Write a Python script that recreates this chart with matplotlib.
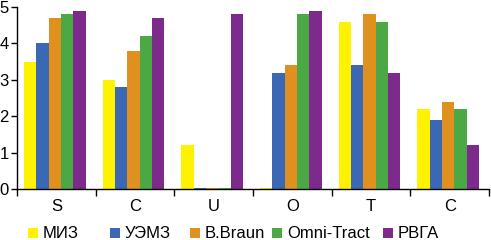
import numpy as np
import matplotlib
matplotlib.use("Agg")
import matplotlib.pyplot as plt
from matplotlib.patches import Rectangle

plt.rcParams["font.family"] = ["Liberation Sans", "DejaVu Sans"]

categories = ["S", "C", "U", "O", "T", "C"]
series = ["МИЗ", "УЭМЗ", "B.Braun", "Omni-Tract", "РВГА"]
miz = [3.5, 3.0, 1.2, 0.02, 4.6, 2.2]
uemz = [4.0, 2.8, 0.02, 3.2, 3.4, 1.9]
bbraun = [4.7, 3.8, 0.02, 3.4, 4.8, 2.4]
omni = [4.8, 4.2, 0.02, 4.8, 4.6, 2.2]
rvga = [4.9, 4.7, 4.8, 4.9, 3.2, 1.2]
colors = ["#fff200", "#3a68b4", "#e0901e", "#4ca845", "#7d2a8c"]

values = [miz, uemz, bbraun, omni, rvga]

W, H = 491, 240
fig = plt.figure(figsize=(W / 100, H / 100), dpi=100)
ax = fig.add_axes([17 / W, 1 - 189 / H, 472 / W, 182 / H])

x = np.arange(len(categories))
w = 0.157
for i, (vals, c) in enumerate(zip(values, colors)):
    ax.bar(x + (i - 2) * w - 0.02, vals, width=w, color=c, linewidth=0)

ax.set_xlim(-0.5, len(categories) - 0.5)
ax.set_ylim(0, 5)
ax.set_yticks(range(6))
ax.set_xticks(np.arange(len(categories) + 1) - 0.5)
ax.set_xticklabels([])
ax.set_xticks(x, minor=True)
ax.set_xticklabels(categories, minor=True, fontsize=12)
ax.tick_params(axis="x", which="minor", length=0, pad=7)
ax.tick_params(axis="x", which="major", length=5, width=1, direction="out")
ax.tick_params(axis="y", length=4, width=1, direction="out", labelsize=12, pad=2)
for s in ["top", "right"]:
    ax.spines[s].set_visible(False)
ax.spines["left"].set_linewidth(1)
ax.spines["bottom"].set_linewidth(1)

# legend drawn by hand along the bottom
sq_x = [28, 110, 190, 272, 383]
for px, name, c in zip(sq_x, series, colors):
    fig.patches.append(Rectangle((px / W, 1 - 238 / H), 10 / W, 10 / H,
                                 transform=fig.transFigure, facecolor=c,
                                 edgecolor="none"))
    fig.text((px + 15) / W, 1 - 233 / H, name, fontsize=12, va="center",
             ha="left")

fig.savefig("out.png", dpi=100)
